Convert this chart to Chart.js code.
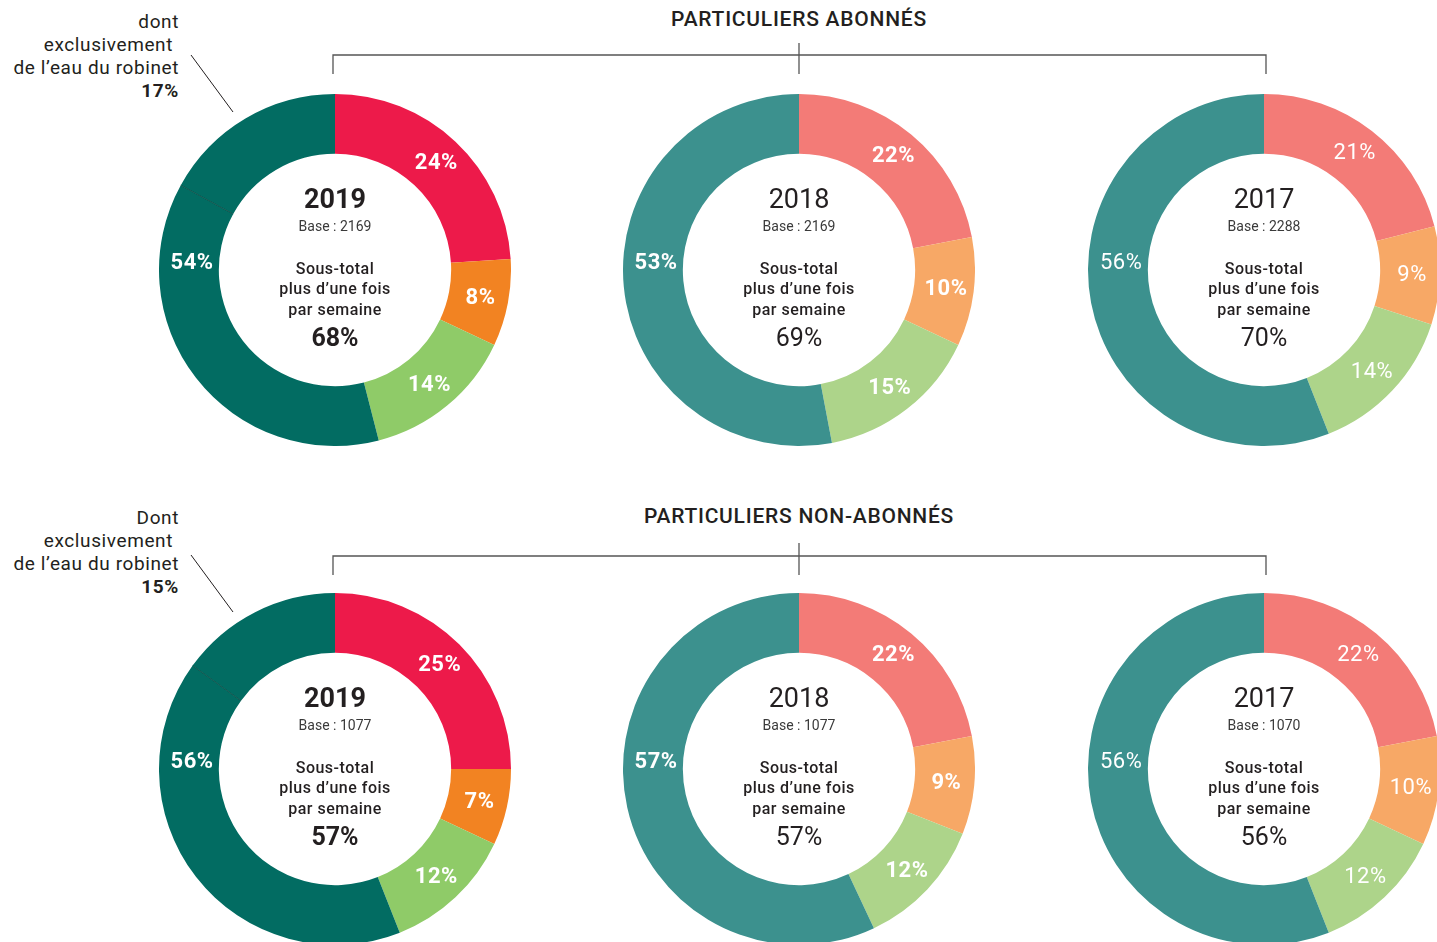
<!DOCTYPE html>
<html>
<head>
<meta charset="utf-8">
<script src="https://cdn.jsdelivr.net/npm/chart.js@4.4.1/dist/chart.umd.min.js"></script>
<style>
  body { margin: 0; width: 1437px; height: 942px; overflow: hidden; background: #fff;
         position: relative; font-family: Roboto, "Open Sans", sans-serif; color: #231f20; }
  canvas { position: absolute; }
  .title { position: absolute; width: 600px; left: 499px; text-align: center;
           font-size: 21px; font-weight: 500; line-height: 24px; letter-spacing: 0.75px; }
  .note { position: absolute; right: 1258px; text-align: right; font-size: 19px; line-height: 23px;
          letter-spacing: 0.6px; }
  .note b { font-weight: 700; }
  svg { position: absolute; left: 0; top: 0; }
</style>
</head>
<body>

<div class="title" style="top:7px">PARTICULIERS ABONNÉS</div>
<div class="title" style="top:504px">PARTICULIERS NON-ABONNÉS</div>

<div class="note" style="top:10px">dont<br><span style="padding-right:6px">exclusivement</span><br>de l’eau du robinet<br><b id="note1"></b></div>
<div class="note" style="top:506px">Dont<br><span style="padding-right:6px">exclusivement</span><br>de l’eau du robinet<br><b id="note2"></b></div>

<svg width="1437" height="942">
  <g stroke="#555" stroke-width="1.3" fill="none">
    <polyline points="333,74 333,55 1266,55 1266,74"/>
    <line x1="799" y1="43" x2="799" y2="74"/>
    <polyline points="333,575 333,556 1266,556 1266,575"/>
    <line x1="799" y1="543" x2="799" y2="575"/>
  </g>
  <g stroke="#231f20" stroke-width="1">
    <line x1="191" y1="55" x2="233" y2="112"/>
    <line x1="191" y1="555" x2="233" y2="612"/>
  </g>
</svg>

<script>
// values in %, clockwise from 12 o'clock
var years = ['2019', '2018', '2017'];
var abonnes = [[24, 8, 14, 54], [22, 10, 15, 53], [21, 9, 14, 56]];
var nonAbonnes = [[25, 7, 12, 56], [22, 9, 12, 57], [22, 10, 12, 56]];
var basesAbonnes = [2169, 2169, 2288];
var basesNonAbonnes = [1077, 1077, 1070];
var totalAbonnes = [68, 69, 70];
var totalNonAbonnes = [57, 57, 56];
// share of the big 2019 slice that is tap water only
var robinetOnly = [17, 15];

var colors2019 = ['#ed1a4a', '#f28322', '#8fcb68', '#026c62', '#026c62'];
var colorsOlder = ['#f37b77', '#f7a866', '#add48a', '#3c918e'];

var rowY = [270, 769];
var colX = [335, 799, 1264];
var R = 176;

document.getElementById('note1').textContent = robinetOnly[0] + '%';
document.getElementById('note2').textContent = robinetOnly[1] + '%';

var donutText = {
  id: 'donutText',
  afterDatasetsDraw: function (chart, args, o) {
    var ctx = chart.ctx;
    var arcs = chart.getDatasetMeta(0).data;
    var cx = arcs[0].x, cy = arcs[0].y;
    var inner = arcs[0].innerRadius, outer = arcs[0].outerRadius;
    var font = 'Roboto, "Open Sans", sans-serif';
    ctx.save();

    if (o.split) {
      var a = arcs[arcs.length - 1].startAngle;
      ctx.strokeStyle = 'rgba(0,45,40,0.55)';
      ctx.lineWidth = 1;
      ctx.beginPath();
      ctx.moveTo(cx + Math.cos(a) * inner, cy + Math.sin(a) * inner);
      ctx.lineTo(cx + Math.cos(a) * outer, cy + Math.sin(a) * outer);
      ctx.stroke();
    }

    ctx.textAlign = 'center';
    ctx.textBaseline = 'middle';
    ctx.fillStyle = '#fff';
    ctx.letterSpacing = '0.5px';
    ctx.font = (o.boldLabels ? '700 ' : '400 ') + '22px ' + font;
    var mid = (inner + outer) / 2;
    o.values.forEach(function (v, i) {
      var arc = arcs[i];
      // the big slice gets its label at 9 o'clock
      var ang = i === 3 ? Math.PI + 0.05 : (arc.startAngle + arc.endAngle) / 2;
      var r = i === 3 ? mid - 3 : mid + 2;
      ctx.fillText(v + '%', cx + Math.cos(ang) * r, cy + Math.sin(ang) * r + 1);
    });

    ctx.fillStyle = '#231f20';
    ctx.letterSpacing = '0px';
    ctx.font = (o.bold ? '700 ' : '400 ') + '27px ' + font;
    ctx.fillText(o.year, cx, cy - 69);
    ctx.fillStyle = '#3a3a3a';
    ctx.font = '400 14px ' + font;
    ctx.fillText('Base : ' + o.base, cx, cy - 43);
    ctx.fillStyle = '#231f20';
    ctx.letterSpacing = '0.5px';
    ctx.font = '500 16px ' + font;
    ctx.fillText('Sous-total', cx, cy);
    ctx.fillText('plus d’une fois', cx, cy + 20);
    ctx.fillText('par semaine', cx, cy + 41);
    ctx.letterSpacing = '0px';
    ctx.font = (o.bold ? '700 ' : '400 ') + '25px ' + font;
    ctx.fillText(o.total + '%', cx, cy + 70);
    ctx.restore();
  }
};

function makeDonut(row, col, values, base, total) {
  var is2019 = col === 0;
  var data = values.slice();
  if (is2019) {
    data[3] = values[3] - robinetOnly[row];
    data.push(robinetOnly[row]);
  }
  var cv = document.createElement('canvas');
  cv.width = 2 * R;
  cv.height = 2 * R;
  cv.style.left = (colX[col] - R) + 'px';
  cv.style.top = (rowY[row] - R) + 'px';
  document.body.appendChild(cv);

  new Chart(cv.getContext('2d'), {
    type: 'doughnut',
    data: {
      labels: data.map(function (d, i) { return 'part ' + (i + 1); }),
      datasets: [{
        data: data,
        backgroundColor: is2019 ? colors2019 : colorsOlder,
        borderWidth: 0,
        hoverOffset: 0
      }]
    },
    options: {
      responsive: false,
      animation: false,
      cutout: '66%',
      layout: { padding: 0 },
      events: [],
      plugins: {
        legend: { display: false },
        tooltip: { enabled: false },
        donutText: {
          values: values,
          year: years[col],
          base: base,
          total: total,
          bold: is2019,
          boldLabels: col !== 2,
          split: is2019
        }
      }
    },
    plugins: [donutText]
  });
}

for (var c = 0; c < 3; c++) {
  makeDonut(0, c, abonnes[c], basesAbonnes[c], totalAbonnes[c]);
  makeDonut(1, c, nonAbonnes[c], basesNonAbonnes[c], totalNonAbonnes[c]);
}
</script>
</body>
</html>
